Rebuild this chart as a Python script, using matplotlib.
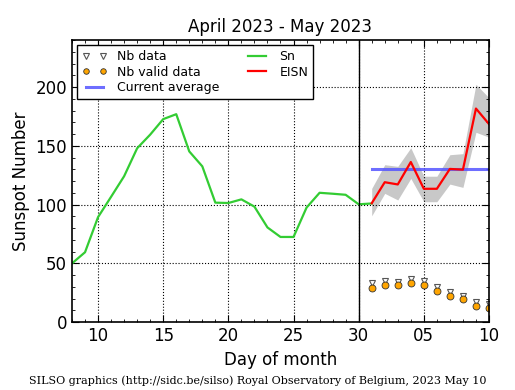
import numpy as np
import matplotlib
matplotlib.use("Agg")
import matplotlib.pyplot as plt

# day index: April 1 = 1 ... May 10 = 40
sn_days = list(range(8, 32))
sn_values = [50, 59.5, 89.4, 106.7, 124.2, 148, 159.6, 172.8, 177, 145.3, 132.6, 101.7,
             101.4, 104.5, 98.3, 80.6, 72.5, 72.5, 97.5, 110.1, 109.3, 108.4, 100.3, 101]

eisn_days = list(range(31, 41))
eisn_values = [101.2, 119.1, 117.2, 136.3, 113.5, 113.5, 130.4, 129.8, 181.8, 168.6]
eisn_upper = [113.8, 134, 132.6, 148.4, 124.2, 124.2, 142.5, 143.4, 202.4, 191]
eisn_lower = [90.5, 109.6, 104, 122.3, 102.5, 102.5, 117.5, 114.7, 161.6, 157.4]

nb_data = [33, 35, 34.5, 37, 35, 29.5, 25.5, 22.5, 17, 15.5]
nb_valid = [29.2, 31.2, 31.2, 33.7, 31.7, 26.1, 22.2, 19.4, 14, 12.3]

current_average = 130.7

xtick_pos = [10, 15, 20, 25, 30, 35, 40]
xtick_labels = ["10", "15", "20", "25", "30", "05", "10"]

fig = plt.figure(figsize=(5.15, 3.9), dpi=100)
ax = fig.add_axes([0.1398, 0.174, 0.8097, 0.723])

ax.fill_between(eisn_days, eisn_lower, eisn_upper, color="#c8c8c8", lw=0)
ax.plot(eisn_days, nb_data, linestyle="none", marker="v", markersize=5,
        markerfacecolor="white", markeredgecolor="#555555", markeredgewidth=0.8, label="Nb data")
ax.plot(eisn_days, nb_valid, linestyle="none", marker="o", markersize=5,
        markerfacecolor="orange", markeredgecolor="#333333", markeredgewidth=0.6, label="Nb valid data")
ax.plot([eisn_days[0], eisn_days[-1]], [current_average, current_average],
        color="#5555ff", lw=2.2, alpha=0.85, label="Current average")
ax.plot(sn_days, sn_values, color="#33cc33", lw=1.6, label="Sn")
ax.plot(eisn_days, eisn_values, color="red", lw=1.6, label="EISN")
ax.axvline(30, color="black", lw=1)

ax.set_xlim(8, 40)
ax.set_ylim(0, 240)
ax.set_xticks(xtick_pos)
ax.set_xticklabels(xtick_labels)
ax.set_yticks([0, 50, 100, 150, 200])
ax.set_xticks(np.arange(8, 41, 1), minor=True)
ax.set_yticks(np.arange(0, 241, 10), minor=True)
ax.tick_params(which="both", direction="in", top=True, right=True, labelsize=12)
ax.tick_params(which="major", length=5)
ax.tick_params(which="minor", length=2.5)
ax.grid(True, which="major", linestyle=":", color="black", lw=0.8)
for s in ax.spines.values():
    s.set_linewidth(1.2)

ax.set_xlabel("Day of month", fontsize=12)
ax.set_ylabel("Sunspot Number", fontsize=12)
ax.set_title("April 2023 - May 2023", fontsize=12)

leg = ax.legend(loc="upper left", ncol=2, numpoints=2, fontsize=9, fancybox=False,
                framealpha=1, edgecolor="black", borderaxespad=0.4, columnspacing=2.0,
                handlelength=2.0, labelspacing=0.2, markerscale=0.8)
leg.get_frame().set_linewidth(1)

fig.text(0.5, 0.01, "SILSO graphics (http://sidc.be/silso) Royal Observatory of Belgium, 2023 May 10",
         ha="center", va="bottom", fontsize=8, family="DejaVu Serif")

fig.savefig("out.png", dpi=100)
